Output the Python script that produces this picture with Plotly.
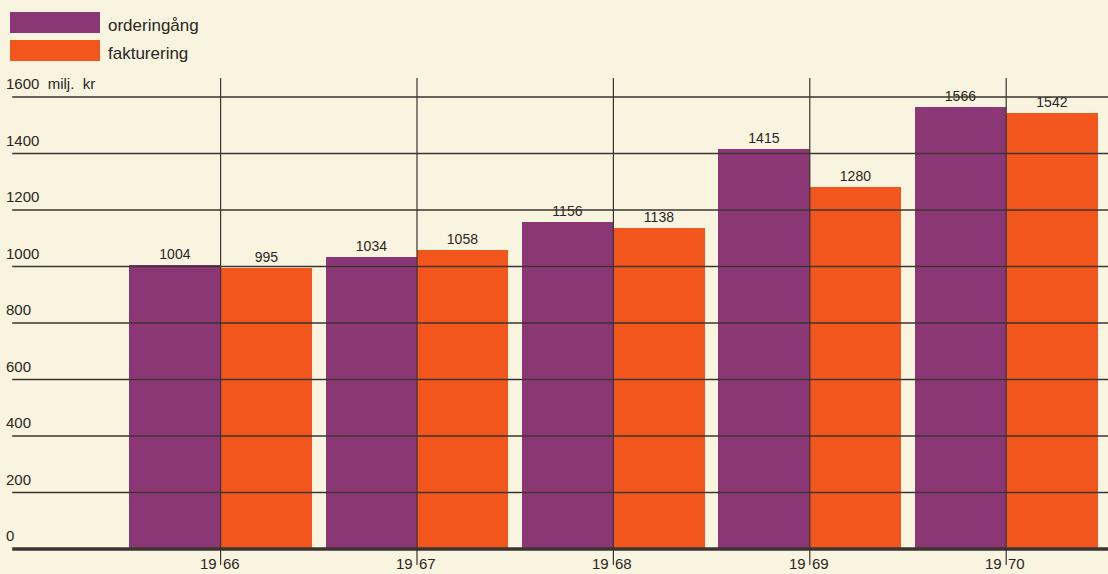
import plotly.graph_objects as go

years = [1966, 1967, 1968, 1969, 1970]
orderingang = [1004, 1034, 1156, 1415, 1566]
fakturering = [995, 1058, 1138, 1280, 1542]
y_ticks = [0, 200, 400, 600, 800, 1000, 1200, 1400, 1600]
y_tick_labels = ["0", "200", "400", "600", "800", "1000", "1200", "1400", "1600 milj. kr"]
series_names = ["orderingång", "fakturering"]

PURPLE = "#8b3776"
ORANGE = "#f3561c"
BG = "#f8f4df"
INK = "#2b2623"
LINE = "#3d3530"
FONT = "Liberation Sans, Arial, sans-serif"

W, H = 1108, 574
T, B = 78, 9
plot_h = H - T - B
bw = 0.465

fig = go.Figure()
fig.add_trace(go.Bar(
    x=years, y=orderingang, name=series_names[0], marker_color=PURPLE,
    width=bw, offset=-bw, text=[str(v) for v in orderingang],
    textposition="outside", textfont=dict(size=14, color=INK, family=FONT),
    cliponaxis=False, marker_line_width=0,
))
fig.add_trace(go.Bar(
    x=years, y=fakturering, name=series_names[1], marker_color=ORANGE,
    width=bw, offset=0, text=[str(v) for v in fakturering],
    textposition="outside", textfont=dict(size=14, color=INK, family=FONT),
    cliponaxis=False, marker_line_width=0,
))

shapes = []
annotations = []
# horizontal grid lines
for v in y_ticks:
    shapes.append(dict(type="line", xref="paper", yref="y", x0=0.011, x1=1, y0=v, y1=v,
                       line=dict(color=LINE, width=3.5 if v == 0 else 1.3), layer="above"))
for v, lab in zip(y_ticks, y_tick_labels):
    annotations.append(dict(xref="paper", yref="y", x=0.004, y=v, text=lab.replace(" ", "\u00a0\u00a0"),
                            showarrow=False, xanchor="left", yanchor="bottom", yshift=3,
                            font=dict(size=15, color=INK, family=FONT)))
# vertical year dividers and year labels
for yr in years:
    shapes.append(dict(type="line", xref="x", yref="paper", x0=yr, x1=yr, y0=0, y1=1,
                       line=dict(color=LINE, width=1.2), layer="above"))
    s = str(yr)
    annotations.append(dict(xref="x", yref="paper", x=yr, y=0.004, text=s[:2], showarrow=False,
                            xanchor="right", yanchor="middle", xshift=-2,
                            font=dict(size=15, color=INK, family=FONT)))
    annotations.append(dict(xref="x", yref="paper", x=yr, y=0.004, text=s[2:], showarrow=False,
                            xanchor="left", yanchor="middle", xshift=0,
                            font=dict(size=15, color=INK, family=FONT)))

# legend boxes
def py(p):
    return (H - B - p) / plot_h

for i, (name, col) in enumerate(zip(series_names, [PURPLE, ORANGE])):
    top = 12 + i * 28
    shapes.append(dict(type="rect", xref="paper", yref="paper", x0=10 / W, x1=100 / W,
                       y0=py(top + 21), y1=py(top), fillcolor=col, line=dict(width=0)))
    annotations.append(dict(xref="paper", yref="paper", x=106 / W, y=py(top + 14), text=name,
                            showarrow=False, xanchor="left", yanchor="middle",
                            font=dict(size=17, color=INK, family=FONT)))

# pixel mapping
x_left = years[0] - 220.6 / 196.4
x_right = years[0] + (W - 220.6) / 196.4
ppu = 452 / 1600
y_top = 1600 + (97 - T) / ppu
y_bot = -(H - B - 549) / ppu

fig.update_layout(
    width=W, height=H,
    margin=dict(l=0, r=0, t=T, b=B),
    paper_bgcolor=BG, plot_bgcolor=BG,
    showlegend=False, bargap=0,
    xaxis=dict(range=[x_left, x_right], visible=False, fixedrange=True),
    yaxis=dict(range=[y_bot, y_top], visible=False, fixedrange=True),
    shapes=shapes, annotations=annotations,
    font=dict(family=FONT, color=INK),
)
fig.write_html("out.html", config={"displayModeBar": False},
               post_script="document.body.style.margin='0';document.body.style.background='" + BG + "';")
